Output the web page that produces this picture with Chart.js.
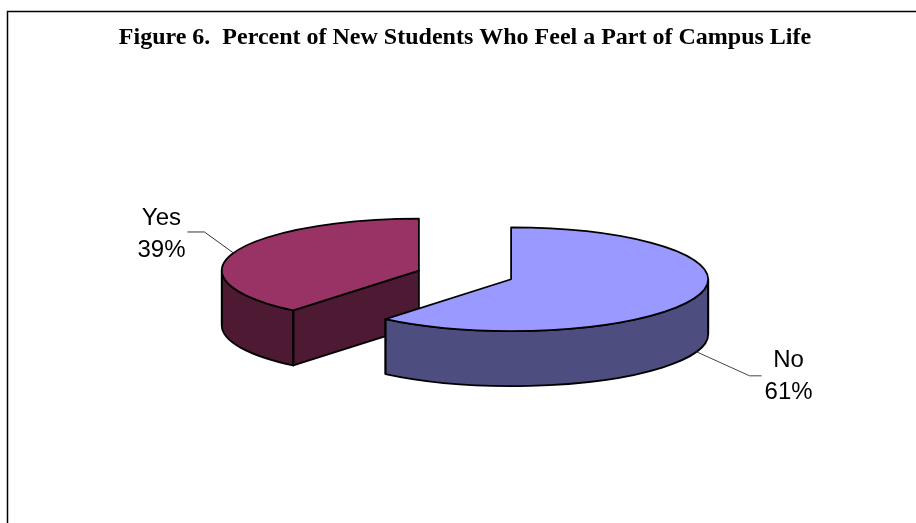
<!DOCTYPE html>
<html>
<head>
<meta charset="utf-8">
<style>
  html, body { margin: 0; padding: 0; background: #fff; overflow: hidden; }
  canvas { display: block; }
</style>
<script src="https://cdn.jsdelivr.net/npm/chart.js@4/dist/chart.umd.min.js"></script>
</head>
<body>
<canvas id="pie" width="916" height="523"></canvas>
<script>
const categories = ['No', 'Yes'];
const percents = [61, 39];
const topColors = ['#9999ff', '#993366'];
const wallColors = ['#4d4d80', '#4d1933'];
const chartTitle = 'Figure 6.  Percent of New Students Who Feel a Part of Campus Life';

// look of the fake 3D pie
const squash = 0.263;
const depth = 55;
const explode = 49;
const outline = 1.8;

// where the leader line bends, where it ends and where the text sits, from the rim
const leaders = [
  { elbow: [53, 24], end: [65, 24], text: [92, 25], color: '#444' },
  { elbow: [-29, -21], end: [-46, -21], text: [-72, -19], color: '#333' }
];

function sliceGeometry(arc) {
  const mid = (arc.startAngle + arc.endAngle) / 2;
  const r = arc.outerRadius;
  return {
    cx: arc.x + Math.cos(mid) * explode,
    cy: arc.y + Math.sin(mid) * explode * squash,
    rx: r,
    ry: r * squash,
    start: arc.startAngle,
    end: arc.endAngle,
    mid: mid
  };
}

function rimPoint(g, a) {
  return [g.cx + Math.cos(a) * g.rx, g.cy + Math.sin(a) * g.ry];
}

function hasAngle(g, a) {
  for (let k = -1; k <= 1; k++) {
    const t = a + k * 2 * Math.PI;
    if (t >= g.start && t <= g.end) return true;
  }
  return false;
}

function verticalEdge(ctx, x, y) {
  ctx.beginPath();
  ctx.moveTo(x, y);
  ctx.lineTo(x, y + depth);
  ctx.stroke();
}

// the front part of the round side
function drawRimWall(ctx, g, color) {
  const a = Math.max(g.start, 0);
  const b = Math.min(g.end, Math.PI);
  if (a >= b) return;
  ctx.beginPath();
  ctx.ellipse(g.cx, g.cy, g.rx, g.ry, 0, a, b);
  ctx.ellipse(g.cx, g.cy + depth, g.rx, g.ry, 0, b, a, true);
  ctx.closePath();
  ctx.fillStyle = color;
  ctx.fill();
  ctx.stroke();
}

// a cut side, only when it looks towards us
function drawCutWall(ctx, g, a, color) {
  const p = rimPoint(g, a);
  ctx.beginPath();
  ctx.moveTo(g.cx, g.cy);
  ctx.lineTo(p[0], p[1]);
  ctx.lineTo(p[0], p[1] + depth);
  ctx.lineTo(g.cx, g.cy + depth);
  ctx.closePath();
  ctx.fillStyle = color;
  ctx.fill();
  ctx.stroke();
}

function drawSlice(ctx, arc, i) {
  const g = sliceGeometry(arc);
  ctx.lineWidth = outline;
  ctx.strokeStyle = '#000';
  ctx.lineJoin = 'round';

  if (Math.cos(g.start) < -0.01) drawCutWall(ctx, g, g.start, wallColors[i]);
  if (Math.cos(g.end) > 0.01) drawCutWall(ctx, g, g.end, wallColors[i]);
  drawRimWall(ctx, g, wallColors[i]);

  // corners and the sides of the ellipse
  [g.start, g.end, 0, Math.PI].forEach((a) => {
    if (!hasAngle(g, a) || Math.sin(a) < -0.01) return;
    const p = rimPoint(g, a);
    verticalEdge(ctx, p[0], p[1]);
  });

  ctx.beginPath();
  ctx.moveTo(g.cx, g.cy);
  ctx.ellipse(g.cx, g.cy, g.rx, g.ry, 0, g.start, g.end);
  ctx.closePath();
  ctx.fillStyle = topColors[i];
  ctx.fill();
  ctx.stroke();
}

function drawLabel(ctx, arc, i) {
  const g = sliceGeometry(arc);
  const p = rimPoint(g, g.mid);
  const ax = p[0];
  const ay = p[1] + (Math.sin(g.mid) > 0 ? depth : 0);
  const l = leaders[i];

  ctx.strokeStyle = l.color;
  ctx.lineWidth = 1;
  ctx.beginPath();
  ctx.moveTo(ax, ay);
  ctx.lineTo(ax + l.elbow[0], ay + l.elbow[1]);
  ctx.lineTo(ax + l.end[0], ay + l.end[1]);
  ctx.stroke();

  ctx.fillStyle = '#000';
  ctx.font = '24px "Liberation Sans"';
  ctx.textAlign = 'center';
  ctx.textBaseline = 'middle';
  ctx.fillText(categories[i], ax + l.text[0], ay + l.text[1] - 16);
  ctx.fillText(percents[i] + '%', ax + l.text[0], ay + l.text[1] + 16);
}

const pie3d = {
  id: 'pie3d',
  beforeDraw(chart) {
    // the frame of the figure, only top and left are in the picture
    const ctx = chart.ctx;
    ctx.save();
    ctx.strokeStyle = '#000';
    ctx.lineWidth = 1.5;
    ctx.beginPath();
    ctx.moveTo(7.5, chart.height);
    ctx.lineTo(7.5, 11.5);
    ctx.lineTo(chart.width, 11.5);
    ctx.stroke();
    ctx.restore();
  },
  beforeDatasetDraw(chart, args) {
    const ctx = chart.ctx;
    const arcs = chart.getDatasetMeta(args.index).data;
    ctx.save();
    // back slice first
    for (let i = arcs.length - 1; i >= 0; i--) drawSlice(ctx, arcs[i], i);
    arcs.forEach((arc, i) => drawLabel(ctx, arc, i));
    ctx.restore();
    return false;
  }
};

new Chart(document.getElementById('pie'), {
  type: 'pie',
  data: {
    labels: categories,
    datasets: [{ data: percents, backgroundColor: topColors, borderColor: '#000' }]
  },
  plugins: [pie3d],
  options: {
    responsive: false,
    animation: false,
    layout: { padding: { top: 23, bottom: 50, left: 14, right: 0 } },
    plugins: {
      legend: { display: false },
      tooltip: { enabled: false },
      title: {
        display: true,
        text: chartTitle,
        color: '#000',
        font: { family: '"Liberation Serif"', size: 24, weight: 'bold' },
        padding: { top: 0, bottom: 25 }
      }
    }
  }
});
</script>
</body>
</html>
